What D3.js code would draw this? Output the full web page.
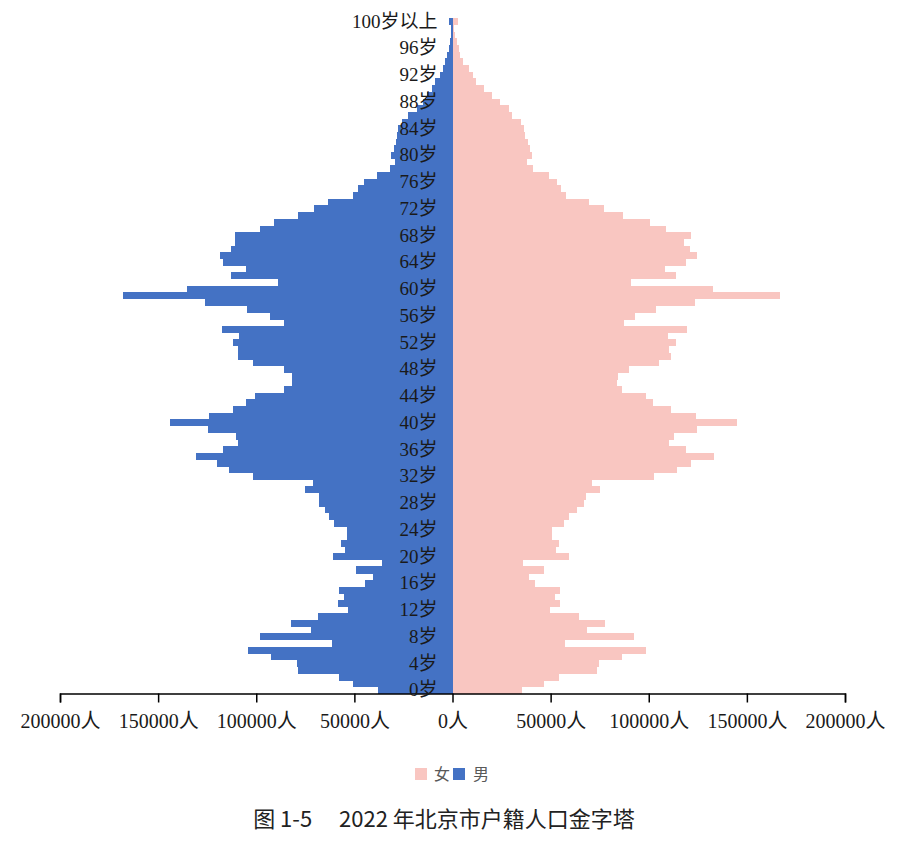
<!DOCTYPE html>
<html>
<head>
<meta charset="utf-8">
<script src="https://cdn.jsdelivr.net/npm/d3@7"></script>
<style>
    body { margin: 0; background: #fff; }
    .pyramid text { font-family: "Liberation Serif", "Noto Sans CJK SC", serif; fill: #1a1a1a; }
    .pyramid .title { font-family: "Noto Sans CJK SC", sans-serif; fill: #222; font-weight: normal; }
    .pyramid .legend text { fill: #595959; }
</style>
</head>
<body>
<svg id="pyramid" class="pyramid" width="907" height="844"></svg>
<script>
// 2022 北京市户籍人口, ages 0..99 and 100岁以上
const ageLabels = d3.range(100).map(a => a + "岁").concat(["100岁以上"]);

const male = [
    37800, 50560, 57860, 78650, 79470, 92230, 104200, 61300, 98200, 72300,
    82530, 68740, 53100, 58530, 55150, 57860, 44580, 40650, 49180, 36060,
    60770, 54800, 56840, 53620, 53620, 60420, 62800, 65000, 67920, 67920,
    75230, 71300, 101600, 113900, 120000, 130540, 116950, 109300, 110500, 124600,
    143700, 124100, 111840, 105400, 100800, 85800, 81530, 81530, 85800, 101600,
    109300, 109300, 111840, 108800, 117300, 85950, 93100, 104700, 125950, 168000,
    135150, 88860, 113000, 105000, 116950, 118650, 112680, 110980, 110980, 98200,
    90900, 78650, 70630, 63300, 50560, 48000, 45000, 38500, 32000, 29300,
    31500, 29800, 28800, 28100, 27600, 25900, 22500, 18200, 14800, 13100,
    10500, 8800, 6300, 4900, 3700, 2700, 2000, 1500, 1000, 700,
    1700
];

const female = [
    35440, 46830, 54130, 73750, 74500, 86500, 98400, 57550, 92440, 68640,
    77470, 64350, 49900, 54650, 52450, 54650, 41880, 38800, 46470, 35750,
    59240, 52960, 54130, 50760, 50760, 57050, 59240, 63500, 66900, 68100,
    75070, 71200, 102650, 114200, 121750, 133000, 119200, 110300, 112850, 124450,
    144750, 124300, 111180, 102140, 98770, 86500, 83960, 84270, 89880, 105200,
    111180, 110300, 113730, 109800, 119700, 87330, 92950, 103520, 123600, 167000,
    132500, 90750, 114100, 108100, 119200, 124800, 121000, 118000, 121750, 108600,
    100450, 86800, 77100, 69450, 58050, 55350, 53300, 49000, 41000, 38000,
    40550, 39300, 38300, 37100, 36600, 35100, 30300, 28600, 24400, 20100,
    15800, 12100, 10700, 8200, 5600, 3900, 3100, 2250, 1400, 900,
    3000
];

const xTicks = [-200000, -150000, -100000, -50000, 0, 50000, 100000, 150000, 200000];
const legendItems = [{name: "女", color: "#f9c6c1"}, {name: "男", color: "#4472c4"}];
const title = "图 1-5\u3000 2022 年北京市户籍人口金字塔";

const svg = d3.select("#pyramid"),
    plotTop = 18.3,
    plotBottom = 693.5,
    plotLeft = 60,
    plotRight = 845;

const xScale = d3.scaleLinear()
    .domain([-200000, 200000])
    .range([plotLeft, plotRight]);

const yScale = d3.scaleBand()
    .domain(ageLabels)
    .range([plotBottom, plotTop])
    .padding(0);

const rows = ageLabels.map((a, i) => ({age: a, m: male[i], f: female[i]}));

svg.append("g")
    .attr("class", "bars male")
    .selectAll("rect")
    .data(rows)
    .enter().append("rect")
      .attr("x", d => xScale(-d.m))
      .attr("y", d => yScale(d.age))
      .attr("width", d => xScale(0) - xScale(-d.m))
      .attr("height", yScale.bandwidth() + 0.4)
      .attr("fill", legendItems[1].color)
      .attr("shape-rendering", "crispEdges");

svg.append("g")
    .attr("class", "bars female")
    .selectAll("rect")
    .data(rows)
    .enter().append("rect")
      .attr("x", xScale(0))
      .attr("y", d => yScale(d.age))
      .attr("width", d => xScale(d.f) - xScale(0))
      .attr("height", yScale.bandwidth() + 0.4)
      .attr("fill", legendItems[0].color)
      .attr("shape-rendering", "crispEdges");

// x axis with ticks at both ends
const xAxis = svg.append("g")
    .attr("class", "axis x")
    .attr("transform", `translate(0, ${plotBottom})`)
    .call(d3.axisBottom(xScale)
        .tickValues(xTicks)
        .tickSize(9)
        .tickSizeOuter(9)
        .tickPadding(11)
        .tickFormat(d => Math.abs(d) + "人"));
xAxis.attr("font-family", null);
xAxis.select(".domain").attr("stroke", "#000").attr("stroke-width", 1.5);
xAxis.selectAll(".tick line").attr("stroke", "#000").attr("stroke-width", 1.5);
xAxis.selectAll(".tick text").attr("font-size", 20).attr("fill", "#1a1a1a");

// age labels sit just left of the zero line, above the bars
const yAxis = svg.append("g")
    .attr("class", "axis y")
    .attr("transform", `translate(${xScale(0)}, 0)`)
    .call(d3.axisLeft(yScale)
        .tickValues(ageLabels.filter((a, i) => i % 4 === 0))
        .tickSize(0)
        .tickPadding(15));
yAxis.attr("font-family", null);
yAxis.select(".domain").remove();
yAxis.selectAll(".tick text").attr("font-size", 19).attr("fill", "#1a1a1a");

// legend
const legend = svg.append("g").attr("class", "legend")
    .attr("transform", "translate(415, 768)");
const item = legend.selectAll("g")
    .data(legendItems)
    .enter().append("g")
      .attr("transform", (d, i) => `translate(${i * 38}, 0)`);
item.append("rect")
    .attr("width", 12).attr("height", 12)
    .attr("fill", d => d.color);
item.append("text")
    .attr("x", d => d.name === "男" ? 20 : 19)
    .attr("y", 12)
    .attr("font-size", 16)
    .text(d => d.name);

svg.append("text")
    .attr("class", "title")
    .attr("x", 444)
    .attr("y", 827)
    .attr("text-anchor", "middle")
    .attr("font-size", 22)
    .text(title);
</script>
</body>
</html>
